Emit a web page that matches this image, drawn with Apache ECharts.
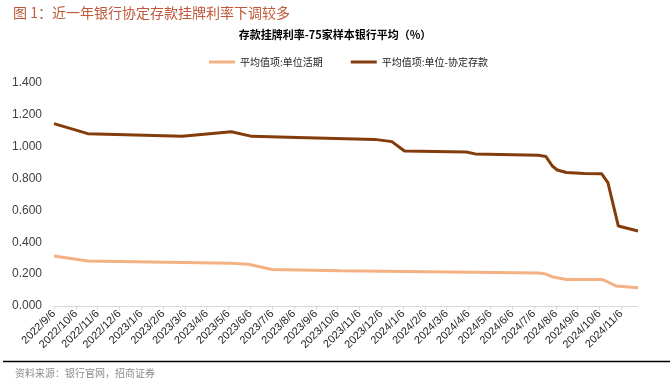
<!DOCTYPE html>
<html><head><meta charset="utf-8">
<script src="https://cdn.jsdelivr.net/npm/echarts@6/dist/echarts.min.js"></script>
<style>html,body{margin:0;padding:0;background:#fff}#c{width:670px;height:380px}</style>
</head><body><div id="c"></div>
<script>
// Tick labels (monthly, on the 6th)
var tickLabels = ['2022/9/6','2022/10/6','2022/11/6','2022/12/6','2023/1/6','2023/2/6','2023/3/6','2023/4/6','2023/5/6','2023/6/6','2023/7/6','2023/8/6','2023/9/6','2023/10/6','2023/11/6','2023/12/6','2024/1/6','2024/2/6','2024/3/6','2024/4/6','2024/5/6','2024/6/6','2024/7/6','2024/8/6','2024/9/6','2024/10/6','2024/11/6'];
var yTicks = [0, 0.2, 0.4, 0.6, 0.8, 1.0, 1.2, 1.4];

// 平均值项:单位活期
var demandDates = ['2022/9/6','2022/10/23','2023/5/10','2023/6/3','2023/7/6','2023/10/9','2024/7/12','2024/7/21','2024/8/2','2024/8/21','2024/10/9','2024/10/15','2024/10/30','2024/11/29'];
var demandValues = [0.314,0.283,0.268,0.262,0.229,0.222,0.207,0.203,0.182,0.167,0.167,0.157,0.125,0.115];

// 平均值项:单位-协定存款
var agreeDates = ['2022/9/6','2022/10/23','2023/3/2','2023/5/10','2023/6/8','2023/8/24','2023/11/27','2023/12/21','2024/1/8','2024/4/3','2024/4/15','2024/7/12','2024/7/23','2024/8/1','2024/8/8','2024/8/21','2024/9/15','2024/10/9','2024/10/18','2024/11/2','2024/11/29'];
var agreeValues = [1.145,1.082,1.065,1.094,1.065,1.057,1.046,1.032,0.973,0.967,0.955,0.946,0.938,0.879,0.854,0.838,0.832,0.831,0.774,0.502,0.471];

var endDate = '2024/11/29';

function monthIndex(s){
  var p = s.split('/').map(Number);
  var dim = new Date(p[0], p[1], 0).getDate();
  return (p[0]-2022)*12 + (p[1]-9) + (p[2]-6)/dim;
}
function pairs(d, v){ return d.map(function(x,i){ return [monthIndex(x), v[i]]; }); }
var monthTicks = tickLabels.map(function(_,i){return i;});

var chart = echarts.init(document.getElementById('c'), null, {renderer:'canvas'});
var cjk = '"Noto Sans CJK SC", sans-serif';
var lat = '"Liberation Sans", Arial, sans-serif';
chart.setOption({
  animation:false,
  backgroundColor:'#fff',
  title:[
    {text:'图 1：近一年银行协定存款挂牌利率下调较多', left:8, top:1,
     textStyle:{fontFamily:cjk, fontSize:14, fontWeight:'normal', color:'#c0583a'}},
    {text:'存款挂牌利率-75家样本银行平均（%）', left:'center', top:24,
     textStyle:{fontFamily:cjk, fontSize:11, fontWeight:'bold', color:'#000'}},
    {text:'资料来源：银行官网，招商证券', left:10, top:363,
     textStyle:{fontFamily:cjk, fontSize:10, fontWeight:'normal', color:'#8c8c8c'}}
  ],
  graphic:[{type:'line', shape:{x1:3,y1:361.5,x2:670,y2:361.5}, style:{stroke:'#000', lineWidth:1.5}}],
  legend:{top:52, left:204, itemWidth:26, itemHeight:3, itemGap:28, icon:'rect',
    textStyle:{fontFamily:cjk, fontSize:10, color:'#222'},
    data:['平均值项:单位活期','平均值项:单位-协定存款']},
  grid:{left:54, right:32, top:83, bottom:74},
  xAxis:{type:'value', min:0, max:monthIndex(endDate),
    axisLine:{show:true, lineStyle:{color:'#d9d9d9', width:1}},
    axisTick:{show:true, customValues:monthTicks, length:4, lineStyle:{color:'#d9d9d9'}},
    splitLine:{show:false},
    axisLabel:{customValues:monthTicks, rotate:45, margin:6, fontFamily:lat, fontSize:11, color:'#222',
      formatter:function(v){ return tickLabels[Math.round(v)] || ''; }}},
  yAxis:{type:'value', min:0, max:1.4, interval:0.2,
    axisLine:{show:false}, axisTick:{show:false}, splitLine:{show:false},
    axisLabel:{fontFamily:lat, fontSize:12, color:'#404040', margin:12,
      formatter:function(v){ return v.toFixed(3); }}},
  series:[
    {name:'平均值项:单位活期', type:'line', data:pairs(demandDates, demandValues), symbol:'none',
     lineStyle:{color:'#f4b183', width:3}, itemStyle:{color:'#f4b183'}},
    {name:'平均值项:单位-协定存款', type:'line', data:pairs(agreeDates, agreeValues), symbol:'none',
     lineStyle:{color:'#843c0c', width:3}, itemStyle:{color:'#843c0c'}}
  ]
});
</script></body></html>
